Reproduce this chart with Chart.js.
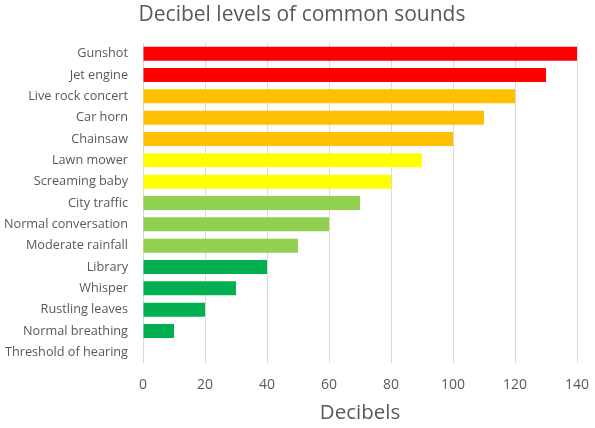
<!DOCTYPE html>
<html>
<head>
<meta charset="utf-8">
<script src="https://cdn.jsdelivr.net/npm/chart.js@4"></script>
<style>
  html, body { margin: 0; padding: 0; background: #fff; }
  #wrap { width: 595px; height: 428px; position: relative; }
</style>
</head>
<body>
<div id="wrap"><canvas id="chart"></canvas></div>
<script>
// Decibel levels, top to bottom
const sounds = [
    'Gunshot', 'Jet engine', 'Live rock concert', 'Car horn', 'Chainsaw',
    'Lawn mower', 'Screaming baby', 'City traffic', 'Normal conversation',
    'Moderate rainfall', 'Library', 'Whisper', 'Rustling leaves',
    'Normal breathing', 'Threshold of hearing'
];
const decibels = [140, 130, 120, 110, 100, 90, 80, 70, 60, 50, 40, 30, 20, 10, 0];
const barColors = [
    '#FF0000', '#FF0000', '#FFC000', '#FFC000', '#FFC000',
    '#FFFF00', '#FFFF00', '#92D050', '#92D050', '#92D050',
    '#00B050', '#00B050', '#00B050', '#00B050', '#00B050'
];

const FONT = "'Open Sans', sans-serif";
const GREY = '#595959';

// let the category labels run into the left padding without being clipped
const wideLabels = {
    id: 'wideLabels',
    afterLayout(chart) {
        chart.scales.y.left = 0;
    }
};

new Chart(document.getElementById('chart'), {
    type: 'bar',
    data: {
        labels: sounds,
        datasets: [{
            data: decibels,
            backgroundColor: barColors,
            borderWidth: 0,
            barPercentage: 0.66,
            categoryPercentage: 1
        }]
    },
    options: {
        indexAxis: 'y',
        responsive: true,
        maintainAspectRatio: false,
        animation: false,
        layout: { padding: { left: 27, right: 18, top: 0, bottom: 3 } },
        plugins: {
            legend: { display: false },
            tooltip: { enabled: false },
            title: {
                display: true,
                text: 'Decibel levels of common sounds',
                color: GREY,
                font: { family: FONT, size: 21, weight: 'normal' },
                padding: { top: 2, bottom: 15.8 }
            }
        },
        scales: {
            x: {
                min: 0,
                max: 140,
                ticks: {
                    stepSize: 20,
                    color: GREY,
                    font: { family: FONT, size: 14 },
                    padding: 14
                },
                grid: { color: '#D9D9D9', drawTicks: false },
                border: { display: false },
                title: {
                    display: true,
                    text: 'Decibels',
                    color: GREY,
                    font: { family: FONT, size: 20.5 },
                    padding: 0
                },
                afterFit: (scale) => {
                    scale.height = 62;
                    scale.paddingLeft = 0;
                    scale.paddingRight = 0;
                }
            },
            y: {
                ticks: {
                    color: GREY,
                    font: { family: FONT, size: 12.7 },
                    padding: 7,
                    autoSkip: false
                },
                grid: { display: false },
                border: { display: false },
                afterFit: (scale) => { scale.width = 116; }
            }
        }
    },
    plugins: [wideLabels]
});
</script>
</body>
</html>
